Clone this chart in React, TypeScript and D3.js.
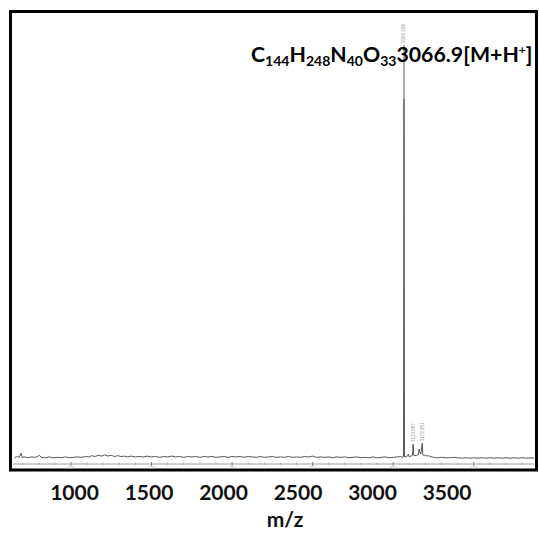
import React from "react";
import * as d3 from "d3";

const W = 539;
const H = 533;

// baseline noise and peaks (m/z, relative intensity %)
const noiseMz = [650,668,680,690,697,715,735,755,775,790,805,815,840,865,890,915,940,965,990,1015,1040,1065,1090,1110,1130,1150,1170,1190,1210,1230,1250,1270,1290,1310,1330,1350,1375,1400,1425,1450,1475,1500,1525,1550,1575,1600,1625,1650,1675,1700,1725,1750,1775,1800,1825,1850,1875,1900,1925,1950,1975,2000,2025,2050,2075,2100,2125,2150,2175,2200,2225,2250,2275,2300,2325,2350,2375,2400,2425,2450,2475,2500,2525,2550,2575,2600,2625,2650,2675,2700,2725,2750,2775,2800,2825,2850,2875,2900,2925,2950,2975,3000,3025,3045,3060,3064,3066.9,3070,3080,3090,3094,3098,3110,3120,3123.9,3127,3135,3145,3155,3161,3166,3172,3179.9,3184,3192,3200,3210,3220,3230,3250,3275,3300,3325,3350,3375,3400,3425,3450,3475,3500,3525,3550,3575,3600,3625,3650,3675,3700,3725,3750,3775,3800,3825,3850,3875];
const noiseInt = [0.3,0.6,0.4,1.4,0.4,0.5,0.3,0.5,0.4,0.6,0.9,0.4,0.3,0.5,0.3,0.4,0.3,0.5,0.3,0.4,0.5,0.4,0.6,0.5,0.8,0.6,0.9,0.7,1.0,0.7,0.9,0.6,0.8,0.6,0.7,0.5,0.7,0.5,0.6,0.5,0.7,0.5,0.6,0.4,0.6,0.5,0.7,0.5,0.6,0.4,0.6,0.5,0.6,0.4,0.6,0.5,0.6,0.4,0.5,0.6,0.4,0.6,0.5,0.6,0.4,0.6,0.5,0.4,0.6,0.4,0.5,0.6,0.4,0.5,0.4,0.6,0.4,0.5,0.4,0.6,0.5,0.7,0.4,0.5,0.4,0.5,0.3,0.5,0.4,0.5,0.3,0.4,0.5,0.3,0.4,0.3,0.5,0.3,0.4,0.5,0.3,0.4,0.5,0.6,0.4,0.5,100,0.6,0.5,0.8,1.2,0.6,0.7,0.9,3.6,0.9,0.8,0.9,1.0,2.4,1.6,1.2,3.8,1.0,0.8,1.0,0.7,0.8,0.6,0.4,0.3,0.4,0.3,0.3,0.4,0.3,0.2,0.3,0.2,0.3,0.2,0.3,0.2,0.3,0.2,0.3,0.2,0.3,0.2,0.3,0.2,0.3,0.2,0.3,0.2];

const peakLabels = [
  { mz: 3066.9, int: 100, text: "3066.934" },
  { mz: 3123.9, int: 3.6, text: "3123.887" },
  { mz: 3179.9, int: 3.8, text: "3179.951" },
];
const mainPeakMz = 3066.9;
const mainPeakShade = [87, 100];

const majorTicks = [1000, 1500, 2000, 2500, 3000, 3500];
const minorTicks = [700,800,900,1100,1200,1300,1400,1600,1700,1800,1900,2100,2200,2300,2400,2600,2700,2800,2900,3100,3200,3300,3400,3600,3700,3800];
const tickLabels = ["1000", "1500", "2000", "2500", "3000", "3500"];

const xDomain = [628, 3880];
const yDomain = [0, 100];

export default function App() {
  const x = d3.scaleLinear().domain(xDomain).range([11, 535]);
  const y = d3.scaleLinear().domain(yDomain).range([459, 45]);
  // the large overlay labels sit on their own scale (as in the reference figure)
  const xLab = d3.scaleLinear().domain([1000, 3500]).range([74.5, 447]);
  const pts: [number, number][] = noiseMz.map((m, i) => [m, noiseInt[i]]);
  const line = d3
    .line<[number, number]>()
    .x((d) => x(d[0]))
    .y((d) => y(d[1]));
  const axisY = 464;
  return (
    <svg width={W} height={H} style={{ position: "absolute", left: 0, top: 0 }}>
      <rect x={0} y={0} width={W} height={H} fill="#fff" />
      <rect x={10.5} y={11.5} width={526} height={458.5} fill="none" stroke="#000" strokeWidth={3} />
      {/* inner axis */}
      <line x1={13} x2={534} y1={axisY} y2={axisY} stroke="#888" strokeWidth={0.8} />
      {minorTicks.map((t) => (
        <line key={"m" + t} x1={x(t)} x2={x(t)} y1={axisY - 1.5} y2={axisY + 1} stroke="#999" strokeWidth={0.7} />
      ))}
      {majorTicks.map((t) => (
        <g key={"M" + t}>
          <line x1={x(t)} x2={x(t)} y1={axisY - 2} y2={axisY + 2} stroke="#666" strokeWidth={0.8} />
          <text x={x(t)} y={axisY + 5} fontSize={3} fill="#aaa" textAnchor="middle" fontFamily="Liberation Sans">{t}</text>
        </g>
      ))}
      <path d={line(pts) || ""} fill="none" stroke="#444" strokeWidth={0.9} />
      <line x1={x(mainPeakMz)} x2={x(mainPeakMz)} y1={y(mainPeakShade[0])} y2={y(mainPeakShade[1])} stroke="#c8c8c8" strokeWidth={1.4} />
      {peakLabels.map((p) => (
        <text
          key={p.text}
          transform={`translate(${x(p.mz) + 1.5},${y(p.int) - 2}) rotate(-90)`}
          fontSize={4.5}
          fill="#999"
          fontFamily="Liberation Sans"
        >
          {p.text}
        </text>
      ))}
      {/* annotation */}
      <text x={251} y={62} fontFamily="Lato" fontWeight="bold" fontSize={21.3} fill="#000">
        <tspan>C</tspan>
        <tspan fontSize={14} dy={4}>144</tspan>
        <tspan dy={-4}>H</tspan>
        <tspan fontSize={14} dy={4}>248</tspan>
        <tspan dy={-4}>N</tspan>
        <tspan fontSize={14} dy={4}>40</tspan>
        <tspan dy={-4}>O</tspan>
        <tspan fontSize={14} dy={4}>33</tspan>
        <tspan dy={-4}>3066.9[M+H</tspan>
        <tspan fontSize={12} dy={-8}>+</tspan>
        <tspan dy={8}>]</tspan>
      </text>
      {/* tick labels */}
      {majorTicks.map((t, i) => (
        <text key={"l" + t} x={xLab(t)} y={500} textAnchor="middle" fontFamily="Lato" fontWeight="bold" fontSize={21} fill="#111">
          {tickLabels[i]}
        </text>
      ))}
      <text x={285} y={527} textAnchor="middle" fontFamily="Lato" fontWeight="bold" fontSize={21} fill="#111">m/z</text>
    </svg>
  );
}
